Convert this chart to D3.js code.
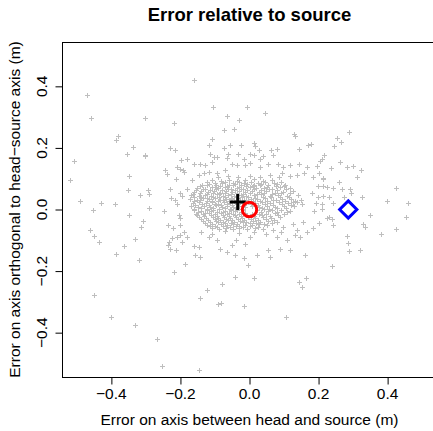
<!DOCTYPE html>
<html>
<head>
<meta charset="utf-8">
<script src="https://cdn.jsdelivr.net/npm/d3@7"></script>
<style>
  body { margin: 0; background: #fff; }
  svg text { font-family: "Liberation Sans", Arial, sans-serif; fill: #000; }
</style>
</head>
<body>
<div id="chart"></div>
<script>
// error of each trial: [along head-source axis, orthogonal to it] in metres
// sparse points away from the centre
const outerPoints = [
  [-0.471,0.373],[-0.460,0.297],[-0.302,0.297],[-0.218,0.282],[-0.382,0.239],[-0.387,0.225],[-0.338,0.203],[-0.355,0.181],[-0.302,0.178],[-0.230,0.201],[-0.216,0.193],
  [-0.160,0.420],[-0.107,0.333],[-0.007,0.333],[-0.066,0.304],[-0.031,0.291],[0.046,0.315],[-0.073,0.259],[-0.045,0.263],[-0.109,0.229],[-0.118,0.209],[-0.075,0.201],[-0.056,0.209],[-0.025,0.209],[0.012,0.217],[0.016,0.205],[0.028,0.194],[0.063,0.194],[0.081,0.196],[0.129,0.246],[0.133,0.240],[0.143,0.196],[0.169,0.209],[-0.115,0.181],[-0.063,0.179],[-0.032,0.179],
  [0.288,0.253],[0.252,0.233],[0.264,0.219],[0.244,0.205],[0.178,0.214],[0.216,0.178],
  [-0.508,0.157],[-0.521,0.096],[-0.492,0.029],[-0.454,0.000],[-0.430,0.021],[-0.390,0.018],[-0.462,-0.067],[-0.449,-0.087],[-0.437,-0.106],[-0.387,-0.146],[-0.364,-0.119],[-0.333,-0.096],[-0.319,-0.165],[-0.349,-0.019],[-0.353,0.063],[-0.349,0.108],[-0.317,0.046],[-0.294,0.063],[-0.290,0.049],[-0.290,0.005],[-0.313,-0.057],[-0.308,-0.036],[-0.303,0.174],[-0.248,-0.005],[-0.245,0.127],[-0.240,0.114],[-0.212,0.098],[-0.200,0.133],[-0.194,0.127],[-0.229,0.065],[-0.226,0.037],[-0.217,0.030],[-0.210,0.019],[-0.200,0.055],[-0.195,0.044],[-0.205,-0.019],[-0.200,-0.028],[-0.237,-0.049],[-0.221,-0.060],[-0.202,-0.051],[-0.234,-0.106],[-0.237,-0.116],[-0.229,-0.127],[-0.214,-0.132],[-0.224,-0.094],[-0.210,-0.089],[-0.200,-0.084],[-0.190,-0.073],
  [0.211,0.165],[0.204,0.156],[0.195,0.140],[0.235,0.136],[0.262,0.154],[0.300,0.140],[0.322,0.127],[0.312,0.105],[0.183,0.105],[0.212,0.102],[0.214,0.098],[0.259,0.089],[0.199,0.075],[0.214,0.075],[0.223,0.073],[0.241,0.070],[0.268,0.065],[0.291,0.068],[0.294,0.055],[0.425,0.070],[0.180,0.052],[0.199,0.041],[0.214,0.044],[0.231,0.041],[0.273,0.039],[0.327,0.041],[0.399,0.028],[0.459,0.021],[0.192,0.022],[0.209,0.019],[0.242,0.021],[0.187,-0.006],[0.209,0.001],[0.348,-0.019],[0.454,-0.024],[0.223,-0.028],[0.231,-0.024],[0.238,-0.030],[0.202,-0.044],[0.185,-0.060],[0.242,-0.051],[0.329,-0.046],[0.334,-0.057],[0.425,-0.064],[0.382,-0.081],[0.283,-0.087],[0.286,-0.109],[0.288,-0.136],[0.319,-0.132],[0.240,-0.182],
  [-0.219,-0.203],[-0.449,-0.278],[-0.401,-0.349],[-0.331,-0.374],[-0.267,-0.421],[-0.253,-0.509],
  [-0.041,-0.219],[0.014,-0.221],[-0.080,-0.243],[-0.123,-0.262],[-0.144,-0.287],[-0.092,-0.308],[-0.083,-0.304],[-0.015,-0.313],[0.144,-0.235],[0.163,-0.221],[0.151,-0.252],[0.106,-0.349],[-0.147,-0.522]
];

// medium density ring around the cluster
const midPoints = [
  [-0.104,0.170],[-0.094,0.169],[0.002,0.181],[0.014,0.176],[0.039,0.173],[0.031,0.165],[0.069,0.176],[-0.181,0.165],[-0.198,0.160],[-0.162,0.149],[-0.142,0.149],[-0.128,0.144],[-0.210,0.138],[-0.190,0.122],
  [-0.051,0.149],[-0.036,0.144],[-0.012,0.144],[0.002,0.151],[0.031,0.138],[0.055,0.147],[0.082,0.149],[0.098,0.138],[0.117,0.144],[0.143,0.147],[0.166,0.138],[0.281,0.138],[0.202,0.117],
  [0.117,0.108],[0.137,0.111],[0.158,0.117],[0.094,0.117],[0.084,0.104],[0.127,0.024],[0.151,0.019],[0.156,-0.041],[0.137,-0.068],[0.166,-0.073],
  [-0.181,-0.089],[-0.195,-0.106],[-0.162,-0.119],[-0.147,-0.122],[-0.157,-0.149],[-0.142,-0.154],[-0.186,-0.178],[-0.118,-0.089],[-0.094,-0.100],[-0.085,-0.127],[-0.065,-0.138],[-0.051,-0.116],[-0.038,-0.098],[-0.012,-0.111],[0.002,-0.089],
  [-0.041,-0.149],[-0.017,-0.159],[0.021,-0.149],[0.055,-0.132],[0.060,-0.154],[0.089,-0.127],[0.117,-0.132],[0.079,-0.089],[0.108,-0.100],[0.069,-0.068],[0.098,-0.057],[0.127,-0.046],[0.161,-0.149],
  [-0.181,0.068],[-0.166,0.095],[-0.147,0.111],[-0.133,0.117],[-0.118,0.122],[-0.094,0.117],[-0.070,0.127],[-0.003,-0.181],[0.132,-0.084],[0.146,-0.089],[-0.109,0.154],[-0.065,0.167],[-0.017,0.165],
  [-0.090,0.106],[-0.061,0.110],[-0.032,0.104],[0.001,0.109],[0.029,0.105],[0.058,0.111],
  [-0.141,-0.073],[-0.108,-0.078],[-0.072,-0.071],[-0.031,-0.077],[0.012,-0.074],[0.048,-0.079],[0.091,-0.072]
];

// dense core of the cluster
const corePoints = [
  [-0.110,0.096],[-0.083,0.093],[-0.058,0.097],[-0.036,0.092],[-0.014,0.095],[0.012,0.098],[0.038,0.093],[0.066,0.096],
  [-0.139,0.080],[-0.117,0.084],[-0.096,0.081],[-0.079,0.085],[-0.060,0.079],[-0.043,0.083],[-0.025,0.081],[-0.006,0.084],[0.014,0.080],[0.033,0.083],[0.055,0.079],[0.081,0.084],[0.104,0.081],
  [-0.151,0.071],[-0.129,0.068],[-0.108,0.072],[-0.091,0.069],[-0.072,0.073],[-0.055,0.068],[-0.037,0.071],[-0.019,0.067],[0.001,0.072],[0.020,0.069],[0.041,0.071],[0.064,0.068],[0.088,0.072],[0.118,0.069],
  [-0.160,0.057],[-0.140,0.060],[-0.121,0.056],[-0.102,0.059],[-0.085,0.055],[-0.068,0.060],[-0.050,0.057],[-0.031,0.059],[-0.013,0.056],[0.007,0.060],[0.027,0.057],[0.049,0.059],[0.073,0.055],[0.097,0.058],[0.126,0.061],
  [-0.168,0.047],[-0.146,0.044],[-0.128,0.048],[-0.111,0.045],[-0.093,0.049],[-0.077,0.043],[-0.061,0.047],[-0.044,0.045],[-0.026,0.048],[-0.009,0.044],[0.012,0.046],[0.034,0.049],[0.058,0.044],[0.083,0.047],[0.109,0.045],[0.140,0.048],
  [-0.172,0.035],[-0.152,0.032],[-0.134,0.036],[-0.117,0.033],[-0.100,0.037],[-0.084,0.031],[-0.067,0.035],[-0.050,0.033],[-0.033,0.036],[-0.016,0.032],[0.003,0.035],[0.022,0.033],[0.044,0.037],[0.068,0.032],[0.094,0.035],[0.121,0.034],[0.148,0.031],
  [-0.165,0.021],[-0.145,0.024],[-0.126,0.020],[-0.108,0.023],[-0.091,0.019],[-0.074,0.024],[-0.057,0.021],[-0.041,0.025],[-0.023,0.020],[-0.005,0.023],[0.015,0.021],[0.036,0.024],[0.059,0.020],[0.085,0.023],[0.112,0.021],[0.139,0.024],
  [-0.170,0.011],[-0.150,0.008],[-0.131,0.012],[-0.114,0.009],[-0.097,0.013],[-0.081,0.008],[-0.064,0.011],[-0.047,0.009],[-0.030,0.012],[-0.012,0.008],[0.008,0.012],[0.028,0.009],[0.050,0.011],[0.074,0.008],[0.099,0.012],[0.128,0.010],
  [-0.162,-0.001],[-0.141,-0.004],[-0.122,0.000],[-0.105,-0.003],[-0.088,0.001],[-0.071,-0.004],[-0.054,-0.001],[-0.037,-0.003],[-0.019,0.000],[0.022,-0.002],[0.043,0.001],[0.066,-0.003],[0.091,-0.001],[0.117,-0.004],
  [-0.156,-0.013],[-0.136,-0.016],[-0.117,-0.012],[-0.099,-0.015],[-0.082,-0.011],[-0.065,-0.016],[-0.048,-0.013],[-0.031,-0.015],[-0.013,-0.012],[0.006,-0.016],[0.027,-0.013],[0.049,-0.015],[0.074,-0.012],[0.101,-0.014],
  [-0.147,-0.025],[-0.126,-0.028],[-0.107,-0.024],[-0.090,-0.027],[-0.073,-0.023],[-0.056,-0.028],[-0.039,-0.025],[-0.021,-0.027],[-0.003,-0.024],[0.017,-0.028],[0.039,-0.025],[0.063,-0.027],[0.089,-0.024],
  [-0.135,-0.037],[-0.114,-0.040],[-0.096,-0.036],[-0.078,-0.039],[-0.061,-0.035],[-0.044,-0.040],[-0.027,-0.037],[-0.009,-0.039],[0.010,-0.036],[0.031,-0.040],[0.055,-0.037],[0.079,-0.039],
  [-0.122,-0.049],[-0.101,-0.052],[-0.083,-0.048],[-0.066,-0.051],[-0.048,-0.047],[-0.030,-0.052],[-0.012,-0.049],[0.007,-0.051],[0.028,-0.048],[0.051,-0.050],
  [-0.108,-0.061],[-0.087,-0.064],[-0.068,-0.060],[-0.049,-0.063],[-0.029,-0.059],[-0.008,-0.064],[0.015,-0.061],[0.040,-0.063]
];

// more trials packed between the core rows
const coreFill = [
  [-0.124,0.089],[-0.100,0.086],[-0.070,0.090],[-0.048,0.087],[-0.030,0.089],[-0.016,0.086],[0.004,0.090],[0.024,0.087],[0.046,0.089],[0.070,0.086],[0.092,0.088],
  [-0.143,0.075],[-0.122,0.078],[-0.101,0.074],[-0.085,0.077],[-0.066,0.075],[-0.048,0.078],[-0.030,0.074],[-0.011,0.077],[0.009,0.075],[0.030,0.078],[0.052,0.074],[0.076,0.077],[0.100,0.075],
  [-0.155,0.063],[-0.135,0.066],[-0.115,0.062],[-0.097,0.065],[-0.079,0.063],[-0.062,0.066],[-0.043,0.062],[-0.025,0.065],[-0.006,0.063],[0.013,0.066],[0.034,0.062],[0.056,0.065],[0.080,0.063],[0.106,0.066],
  [-0.163,0.051],[-0.143,0.054],[-0.124,0.050],[-0.106,0.053],[-0.089,0.051],[-0.072,0.054],[-0.055,0.050],[-0.037,0.053],[-0.019,0.051],[0.001,0.054],[0.021,0.050],[0.042,0.053],[0.065,0.051],[0.090,0.054],[0.118,0.052],
  [-0.160,0.039],[-0.140,0.042],[-0.122,0.038],[-0.105,0.041],[-0.088,0.039],[-0.072,0.042],[-0.055,0.038],[-0.038,0.041],[-0.021,0.039],[-0.003,0.042],[0.017,0.038],[0.039,0.041],[0.062,0.039],[0.088,0.042],[0.115,0.040],
  [-0.162,0.027],[-0.142,0.030],[-0.124,0.026],[-0.108,0.029],[-0.092,0.027],[-0.076,0.030],[-0.059,0.026],[-0.045,0.029],[-0.028,0.027],[-0.011,0.030],[0.009,0.026],[0.029,0.029],[0.051,0.027],[0.076,0.030],[0.103,0.028],[0.131,0.027],
  [-0.158,0.015],[-0.138,0.018],[-0.118,0.014],[-0.100,0.017],[-0.083,0.015],[-0.066,0.018],[-0.050,0.014],[-0.033,0.017],[-0.016,0.015],[0.003,0.018],[0.024,0.014],[0.045,0.017],[0.068,0.015],[0.093,0.018],[0.120,0.016],
  [-0.160,0.003],[-0.140,0.006],[-0.122,0.002],[-0.105,0.005],[-0.089,0.003],[-0.072,0.006],[-0.056,0.002],[-0.039,0.005],[-0.021,0.003],[0.035,0.005],[0.057,0.003],[0.080,0.006],[0.106,0.004],
  [-0.150,-0.007],[-0.130,-0.010],[-0.111,-0.006],[-0.094,-0.009],[-0.077,-0.007],[-0.060,-0.010],[-0.042,-0.006],[-0.025,-0.009],[0.033,-0.008],[0.055,-0.006],[0.080,-0.009],[0.108,-0.007],
  [-0.152,-0.019],[-0.131,-0.022],[-0.112,-0.018],[-0.094,-0.021],[-0.078,-0.019],[-0.060,-0.022],[-0.043,-0.018],[-0.026,-0.021],[-0.008,-0.019],[0.014,-0.022],[0.035,-0.018],[0.058,-0.021],[0.083,-0.019],
  [-0.141,-0.031],[-0.120,-0.034],[-0.101,-0.030],[-0.084,-0.033],[-0.067,-0.031],[-0.050,-0.034],[-0.033,-0.030],[-0.015,-0.033],[0.004,-0.031],[0.024,-0.034],[0.047,-0.030],[0.071,-0.033],
  [-0.128,-0.043],[-0.108,-0.046],[-0.090,-0.042],[-0.072,-0.045],[-0.055,-0.043],[-0.037,-0.046],[-0.019,-0.042],[0.000,-0.045],[0.019,-0.043],[0.041,-0.046],[0.065,-0.044],
  [-0.115,-0.055],[-0.094,-0.058],[-0.076,-0.054],[-0.057,-0.057],[-0.039,-0.055],[-0.020,-0.058],[0.002,-0.054],[0.024,-0.057]
];

// special markers
const meanError = [-0.034, 0.024];   // black plus
const sourcePos = [0.0, 0.0];        // red circle
const headPos = [0.286, 0.0];        // blue diamond

const xTicks = [-0.4, -0.2, 0.0, 0.2, 0.4];
const yTicks = [-0.4, -0.2, 0.0, 0.2, 0.4];

const width = 433, height = 431;
const plot = { left: 62, right: 437, top: 42, bottom: 377 };
const fontSize = 15.5;

let svg = d3.select("#chart").append("svg")
    .attr("width", width)
    .attr("height", height);

let x = d3.scaleLinear().domain([-0.543, 0.543]).range([plot.left, plot.right]);
let y = d3.scaleLinear().domain([-0.544, 0.544]).range([plot.bottom, plot.top]);

let fmt = d3.format(".1f");

// all gray trials, snapped to pixel centres so the 1px crosses stay sharp
let allPoints = outerPoints.concat(midPoints, corePoints, coreFill);
let crossSize = 2.5;
svg.append("g")
    .selectAll("path")
    .data(allPoints)
    .join("path")
    .attr("d", d => {
        let cx = Math.round(x(d[0])) + 0.5, cy = Math.round(y(d[1])) + 0.5;
        return `M${cx - crossSize},${cy}H${cx + crossSize}M${cx},${cy - crossSize}V${cy + crossSize}`;
    })
    .attr("stroke", "#bebebe")
    .attr("stroke-width", 1)
    .attr("fill", "none");

// mean error (black plus)
let bigCross = 8;
svg.append("path")
    .attr("d", `M${x(meanError[0]) - bigCross},${y(meanError[1])}H${x(meanError[0]) + bigCross}M${x(meanError[0])},${y(meanError[1]) - bigCross}V${y(meanError[1]) + bigCross}`)
    .attr("stroke", "#000")
    .attr("stroke-width", 3)
    .attr("fill", "none");

// source (red circle)
svg.append("circle")
    .attr("cx", x(sourcePos[0]))
    .attr("cy", y(sourcePos[1]))
    .attr("r", 7.2)
    .attr("fill", "none")
    .attr("stroke", "#ff0000")
    .attr("stroke-width", 3);

// head (blue diamond)
let dd = 8.6;
let hx = x(headPos[0]), hy = y(headPos[1]);
svg.append("path")
    .attr("d", `M${hx},${hy - dd}L${hx + dd},${hy}L${hx},${hy + dd}L${hx - dd},${hy}Z`)
    .attr("fill", "none")
    .attr("stroke", "#0000ff")
    .attr("stroke-width", 3);

// plot box
svg.append("rect")
    .attr("x", plot.left + 0.5)
    .attr("y", plot.top + 0.5)
    .attr("width", plot.right - plot.left)
    .attr("height", plot.bottom - plot.top)
    .attr("fill", "none")
    .attr("stroke", "#000")
    .attr("stroke-width", 1);

// x axis
let xAxis = svg.append("g")
    .attr("transform", `translate(0, ${plot.bottom + 0.5})`)
    .call(d3.axisBottom(x).tickValues(xTicks).tickSize(7).tickFormat(""));
xAxis.select(".domain").remove();
xAxis.selectAll(".tick line").attr("stroke", "#000");
xAxis.append("line")
    .attr("x1", x(xTicks[0])).attr("x2", x(xTicks[xTicks.length - 1]))
    .attr("stroke", "#000");

svg.append("g").selectAll("text")
    .data(xTicks)
    .join("text")
    .attr("x", d => x(d))
    .attr("y", 399)
    .attr("text-anchor", "middle")
    .style("font-size", fontSize + "px")
    .text(d => fmt(d));

// y axis
let yAxis = svg.append("g")
    .attr("transform", `translate(${plot.left + 0.5}, 0)`)
    .call(d3.axisLeft(y).tickValues(yTicks).tickSize(7).tickFormat(""));
yAxis.select(".domain").remove();
yAxis.selectAll(".tick line").attr("stroke", "#000");
yAxis.append("line")
    .attr("y1", y(yTicks[0])).attr("y2", y(yTicks[yTicks.length - 1]))
    .attr("stroke", "#000");

svg.append("g").selectAll("text")
    .data(yTicks)
    .join("text")
    .attr("transform", d => `translate(47, ${y(d)}) rotate(-90)`)
    .attr("text-anchor", "middle")
    .style("font-size", fontSize + "px")
    .text(d => fmt(d));

// axis titles
svg.append("text")
    .attr("x", (plot.left + plot.right) / 2)
    .attr("y", 425)
    .attr("text-anchor", "middle")
    .style("font-size", fontSize + "px")
    .text("Error on axis between head and source (m)");

svg.append("text")
    .attr("transform", `translate(20, ${(plot.top + plot.bottom) / 2}) rotate(-90)`)
    .attr("text-anchor", "middle")
    .style("font-size", fontSize + "px")
    .text("Error on axis orthogonal to head\u2212source axis (m)");

// title
svg.append("text")
    .attr("x", (plot.left + plot.right) / 2)
    .attr("y", 21)
    .attr("text-anchor", "middle")
    .style("font-size", "18.5px")
    .style("font-weight", "bold")
    .text("Error relative to source");
</script>
</body>
</html>
